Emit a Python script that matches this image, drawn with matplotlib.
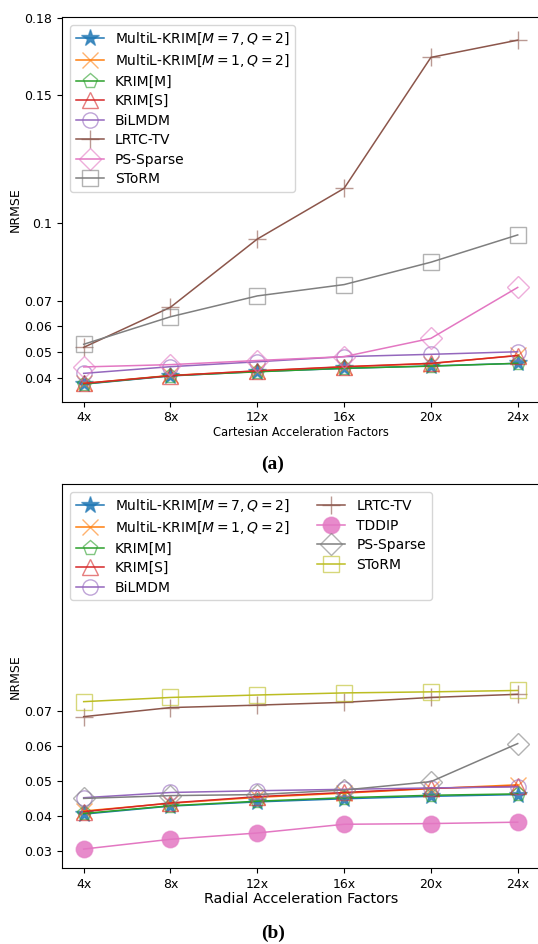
import numpy as np
import matplotlib.pyplot as plt

factors = ["4x", "8x", "12x", "16x", "20x", "24x"]

# Cartesian sampling
cart_multil_m7 = [0.0375, 0.0407, 0.0424, 0.0436, 0.0446, 0.0456]
cart_multil_m1 = [0.0378, 0.0409, 0.0426, 0.0442, 0.0455, 0.0487]
cart_krim_m = [0.0376, 0.0408, 0.0423, 0.0437, 0.0445, 0.0456]
cart_krim_s = [0.0378, 0.0408, 0.0427, 0.0443, 0.0456, 0.0486]
cart_bilmdm = [0.0417, 0.0443, 0.0462, 0.0482, 0.0491, 0.0501]
cart_lrtc_tv = [0.0518, 0.0674, 0.0939, 0.1136, 0.1645, 0.1712]
cart_ps_sparse = [0.0442, 0.0451, 0.0467, 0.0482, 0.0553, 0.0751]
cart_storm = [0.0530, 0.0637, 0.0718, 0.0762, 0.0849, 0.0955]

# Radial sampling
rad_multil_m7 = [0.0405, 0.0428, 0.0440, 0.0449, 0.0456, 0.0461]
rad_multil_m1 = [0.0414, 0.0436, 0.0453, 0.0465, 0.0478, 0.0489]
rad_krim_m = [0.0407, 0.0429, 0.0442, 0.0452, 0.0459, 0.0463]
rad_krim_s = [0.0412, 0.0437, 0.0455, 0.0467, 0.0479, 0.0485]
rad_bilmdm = [0.0452, 0.0467, 0.0472, 0.0476, 0.0480, 0.0483]
rad_lrtc_tv = [0.0684, 0.0710, 0.0717, 0.0725, 0.0739, 0.0748]
rad_tddip = [0.0305, 0.0333, 0.0351, 0.0376, 0.0378, 0.0382]
rad_ps_sparse = [0.0450, 0.0458, 0.0461, 0.0474, 0.0498, 0.0607]
rad_storm = [0.0727, 0.0739, 0.0746, 0.0752, 0.0755, 0.0759]

label_m7 = r"MultiL-KRIM[$M=7, Q=2$]"
label_m1 = r"MultiL-KRIM[$M=1, Q=2$]"

ms = 11


def draw(ax, y, label, marker, color, filled=False, ms=ms):
    face = (color, 0.85) if filled else "none"
    ax.plot(range(len(factors)), y, marker=marker, color=color, lw=1.1,
            ms=ms, mfc=face, mec=(color, 0.6), mew=1.0, label=label)


plt.rcParams["font.size"] = 9
fig = plt.figure(figsize=(5.38, 9.44), dpi=100)

ax1 = fig.add_axes([0.1152, 0.5745, 0.8874, 0.4075])
draw(ax1, cart_multil_m7, label_m7, "*", "tab:blue", filled=True, ms=13)
draw(ax1, cart_multil_m1, label_m1, "x", "tab:orange")
draw(ax1, cart_krim_m, "KRIM[M]", "p", "tab:green")
draw(ax1, cart_krim_s, "KRIM[S]", "^", "tab:red")
draw(ax1, cart_bilmdm, "BiLMDM", "o", "tab:purple")
draw(ax1, cart_lrtc_tv, "LRTC-TV", "+", "tab:brown", ms=13)
draw(ax1, cart_ps_sparse, "PS-Sparse", "D", "tab:pink")
draw(ax1, cart_storm, "SToRM", "s", "tab:gray")
ax1.set_ylim(0.0307, 0.1802)
ax1.set_yticks([0.04, 0.05, 0.06, 0.07, 0.1, 0.15, 0.18])
ax1.set_yticklabels(["0.04", "0.05", "0.06", "0.07", "0.1", "0.15", "0.18"])
ax1.set_xticks(range(len(factors)))
ax1.set_xticklabels(factors)
ax1.set_xlabel("Cartesian Acceleration Factors", fontsize=8.3, labelpad=1)
ax1.set_ylabel("NRMSE", fontsize=9, labelpad=2)
ax1.legend(loc="upper left", fontsize=10, borderaxespad=0.6, labelspacing=0.4)

ax2 = fig.add_axes([0.1152, 0.0802, 0.8874, 0.4071])
draw(ax2, rad_multil_m7, label_m7, "*", "tab:blue", filled=True, ms=13)
draw(ax2, rad_multil_m1, label_m1, "x", "tab:orange")
draw(ax2, rad_krim_m, "KRIM[M]", "p", "tab:green")
draw(ax2, rad_krim_s, "KRIM[S]", "^", "tab:red")
draw(ax2, rad_bilmdm, "BiLMDM", "o", "tab:purple")
draw(ax2, rad_lrtc_tv, "LRTC-TV", "+", "tab:brown", ms=13)
draw(ax2, rad_tddip, "TDDIP", "o", "tab:pink", filled=True, ms=12)
draw(ax2, rad_ps_sparse, "PS-Sparse", "D", "tab:gray")
draw(ax2, rad_storm, "SToRM", "s", "tab:olive")
ax2.set_ylim(0.025, 0.135)
ax2.set_yticks([0.03, 0.04, 0.05, 0.06, 0.07])
ax2.set_xticks(range(len(factors)))
ax2.set_xticklabels(factors)
ax2.set_xlabel("Radial Acceleration Factors", fontsize=10.4, labelpad=1)
ax2.set_ylabel("NRMSE", fontsize=9, labelpad=2)
ax2.legend(loc="upper left", ncol=2, fontsize=10, borderaxespad=0.6,
           labelspacing=0.4)

fig.text(0.507, 1 - 464 / 944, "(a)", ha="center", va="center",
         fontsize=14, fontweight="bold", family="Liberation Serif")
fig.text(0.507, 1 - 933 / 944, "(b)", ha="center", va="center",
         fontsize=14, fontweight="bold", family="Liberation Serif")

fig.savefig("out.png", dpi=100)
